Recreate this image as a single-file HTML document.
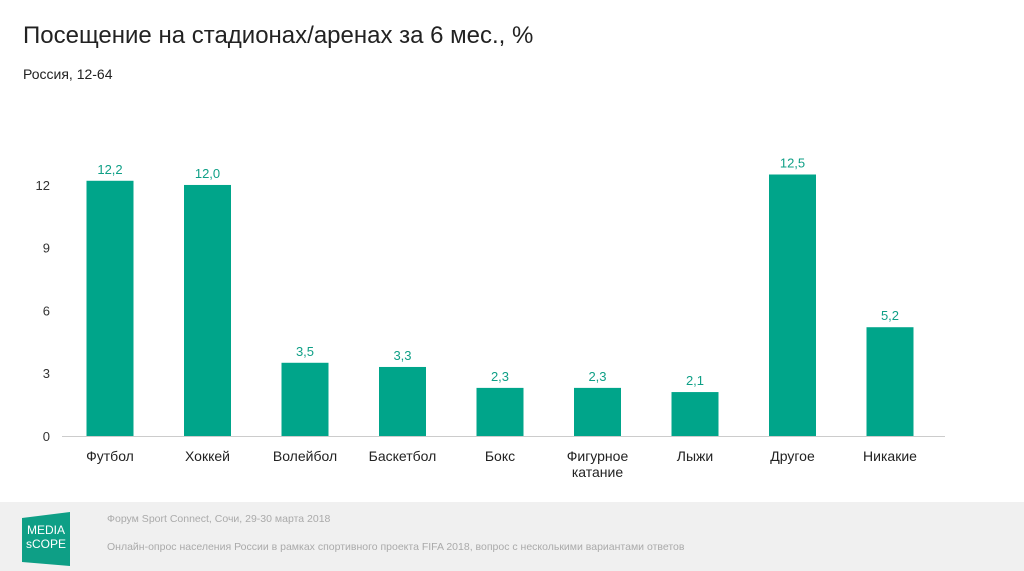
<!DOCTYPE html>
<html><head><meta charset="utf-8"><style>
body{margin:0;width:1024px;height:571px;background:#fff;font-family:"Liberation Sans",sans-serif;position:relative;overflow:hidden}
.t{position:absolute;white-space:nowrap}
</style></head><body>
<div class="t" style="left:23px;top:22px;font-size:24px;color:#222">Посещение на стадионах/аренах за 6 мес., %</div>
<div class="t" style="left:23px;top:66px;font-size:14px;color:#222">Россия, 12-64</div>
<svg id="c" width="1024" height="500" style="position:absolute;left:0;top:0"></svg>
<div style="position:absolute;left:0;top:502px;width:1024px;height:69px;background:#f0f0f0">
<svg width="50" height="54" style="position:absolute;left:22px;top:10px">
<polygon points="0,6 48,0 48,54 0,50" fill="#0e9f86"/>
<text x="24" y="22" font-size="12" fill="#fff" text-anchor="middle" font-family="Liberation Sans">MEDIA</text>
<text x="24" y="36" font-size="12" fill="#fff" text-anchor="middle" font-family="Liberation Sans">sCOPE</text>
</svg>
<div class="t" style="left:107px;top:11px;font-size:10.5px;color:#aaa">Форум Sport Connect, Сочи, 29-30 марта 2018</div>
<div class="t" style="left:107px;top:39px;font-size:10.5px;color:#aaa">Онлайн-опрос населения России в рамках спортивного проекта FIFA 2018, вопрос с несколькими вариантами ответов</div>
</div>
<script>
const categories=[["Футбол"],["Хоккей"],["Волейбол"],["Баскетбол"],["Бокс"],["Фигурное","катание"],["Лыжи"],["Другое"],["Никакие"]];
const values=[12.2,12.0,3.5,3.3,2.3,2.3,2.1,12.5,5.2];
const labels=["12,2","12,0","3,5","3,3","2,3","2,3","2,1","12,5","5,2"];
const ticks=[0,3,6,9,12];
const svg=document.getElementById('c');const NS="http://www.w3.org/2000/svg";
const y=v=>436-v*20.92;const x0=62,x1=945,step=97.5;
const cx=i=>110+step*i;
function mk(t,a,txt){const e=document.createElementNS(NS,t);for(const k in a)e.setAttribute(k,a[k]);if(txt!=null)e.textContent=txt;svg.appendChild(e);return e;}
ticks.forEach(t=>{const e=mk('text',{x:50,y:y(t)+5,'font-size':13,fill:'#333','text-anchor':'end','font-family':'Liberation Sans'},String(t));

});
const ax=mk('line',{x1:x0,x2:x1,y1:436.5,y2:436.5,stroke:'#ccc'});


values.forEach((v,i)=>{
const r=mk('rect',{x:cx(i)-23.5,y:y(v),width:47,height:436-y(v),fill:'#00a58a'});


const l=mk('text',{x:cx(i),y:y(v)-7,'font-size':13,fill:'#0e9f86','text-anchor':'middle','font-family':'Liberation Sans'},labels[i]);


categories[i].forEach((s,j)=>{const c=mk('text',{x:cx(i),y:461+j*16,'font-size':14,fill:'#222','text-anchor':'middle','font-family':'Liberation Sans'},s);

});
});
</script>
</body></html>
